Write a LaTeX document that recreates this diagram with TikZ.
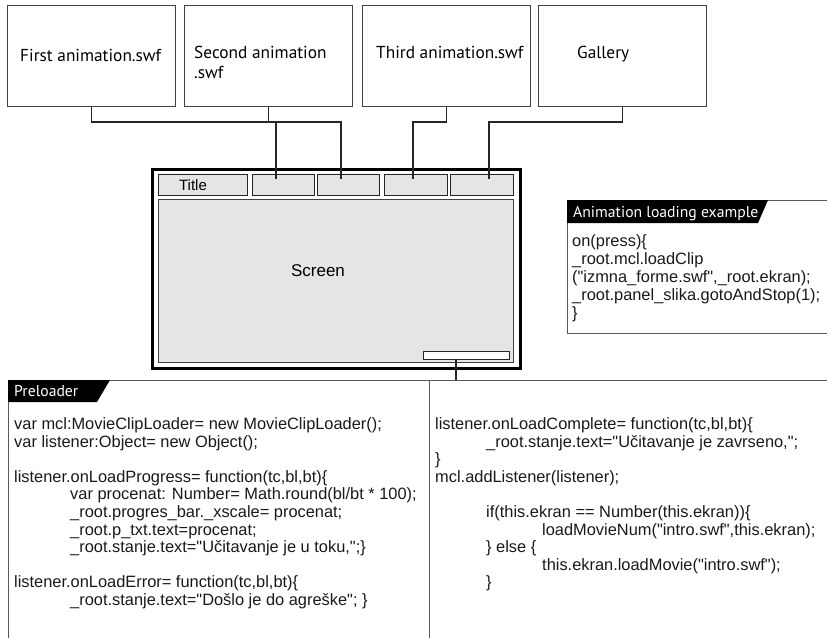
\documentclass[tikz,border=0pt]{standalone}
\usepackage{fontspec}
\usetikzlibrary{calc}
\setmainfont{Liberation Sans}
\newfontfamily\labelfont{PT Sans}
% plain family without TeX ligatures, so that " stays a straight quote
\newfontfamily\codefont{Liberation Sans}
\begin{document}
\begin{tikzpicture}[x=1pt,y=-1pt,
  filebox/.style={draw=black!75,line width=0.9pt,minimum width=168pt,minimum height=101pt,anchor=north west,inner sep=0pt},
  filetext/.style={font=\labelfont\fontsize{17.3}{20}\selectfont,anchor=base west,inner sep=0pt,align=left},
  link/.style={draw=black!85,line width=1.6pt},
  tab/.style={draw=black!85,line width=1.4pt,fill=black!10,anchor=north west,inner sep=0pt,minimum height=21pt},
  code/.style={font=\codefont\fontsize{16.4}{17.6}\selectfont,anchor=base west,inner sep=0pt,align=left,text=black!90},
  headtext/.style={font=\labelfont\fontsize{15.7}{18}\selectfont,text=white,anchor=base west,inner sep=0pt},
  panel/.style={draw=black!65,line width=0.9pt},
]
\useasboundingbox (0,0) rectangle (827,638);

% source files
\node[filebox] (f1) at (7,5) {};
\node[filebox] (f2) at (184,5) {};
\node[filebox] (f3) at (362,5) {};
\node[filebox] (f4) at (538,5) {};
% multi-line nodes sit on the baseline of their last line
\node[filetext] (t1) at (20,61) {First animation.swf};
\node[filetext] (t2) at (194,78) {Second animation\\.swf};
\node[filetext] (t3) at (376,58) {Third animation.swf};
\node[filetext] (t4) at (577,58) {Gallery};

% screen frame
\node[draw=black,line width=2.8pt,fill=white,minimum width=368pt,minimum height=199pt,anchor=north west,inner sep=0pt] (frame) at (151,168) {};
\node[tab,minimum width=89pt] (title) at (158,174) {};
\node[font=\fontsize{15}{18}\selectfont] (titletxt) at (193,185) {Title};
\node[tab,minimum width=62pt] (b1) at (252,174) {};
\node[tab,minimum width=62pt] (b2) at (317,174) {};
\node[tab,minimum width=63pt] (b3) at (384,174) {};
\node[tab,minimum width=63pt] (b4) at (450,174) {};
\node[draw=black!75,line width=1.3pt,fill=black!10,minimum width=355pt,minimum height=163pt,anchor=north west,inner sep=0pt] (screen) at (158,199) {};
\node[font=\fontsize{17}{20}\selectfont] (screentxt) at (318,271) {Screen};
\node[draw=black!85,line width=1.3pt,fill=white,minimum width=86pt,minimum height=8pt,anchor=north west,inner sep=0pt] (bar) at (423,351) {};

% connectors from files to buttons
\coordinate (e1) at (276,179);
\coordinate (e2) at (341,179);
\coordinate (e3) at (413,179);
\coordinate (e4) at (489,179);
\draw[link] (f1.south) |- (276,122) -- (e1);
\draw[link] (f2.south) |- (341,122) -- (e2);
\draw[link] (f3.south) |- (413,122) -- (e3);
\draw[link] (f4.south) |- (489,122) -- (e4);

% preloader panel
\coordinate (pl) at (8,380);
\coordinate (pr) at (827,380);
\coordinate (pb) at (8,638);
\coordinate (dv) at (429,380);
\coordinate (db) at (429,638);
\coordinate (bj) at (456,380);
\draw[panel] (pb) -- (pl) -- (pr);
\draw[panel] (dv) -- (db);
\draw[link,line width=1.4pt] (bar.south -| bj) -- (bj);
\fill[black] (8,380) -- (110,380) -- (97,402) -- (8,402) -- cycle;
\node[headtext] (prehead) at (14,396) {Preloader};

% first baseline 429.5, 17.6 per line
\node[code] (left) at (14,605.5) {var mcl:MovieClipLoader= new MovieClipLoader();\\
var listener:Object= new Object();\\
\mbox{}\\
listener.onLoadProgress= function(tc,bl,bt)\{\\
\hspace*{56pt}var procenat: Number= Math.round(bl/bt * 100);\\
\hspace*{56pt}\_root.progres\_bar.\_xscale= procenat;\\
\hspace*{56pt}\_root.p\_txt.text=procenat;\\
\hspace*{56pt}\_root.stanje.text="Učitavanje je u toku,";\}\\
\mbox{}\\
listener.onLoadError= function(tc,bl,bt)\{\\
\hspace*{56pt}\_root.stanje.text="Došlo je do agreške"; \}};

\node[code] (right) at (435,587.9) {listener.onLoadComplete= function(tc,bl,bt)\{\\
\hspace*{51pt}\_root.stanje.text="Učitavanje je zavrseno,";\\
\}\\
mcl.addListener(listener);\\
\mbox{}\\
\hspace*{51pt}if(this.ekran == Number(this.ekran))\{\\
\hspace*{107pt}loadMovieNum("intro.swf",this.ekran);\\
\hspace*{51pt}\} else \{\\
\hspace*{107pt}this.ekran.loadMovie("intro.swf");\\
\hspace*{51pt}\}};

% animation loading example
\draw[panel] (827,200) -- (567,200) -- (567,333) -- (827,333);
\fill[black] (567,200) -- (768,200) -- (758,223) -- (567,223) -- cycle;
\node[headtext] (animhead) at (573,217) {Animation loading example};
\node[code,font=\codefont\fontsize{16.4}{18}\selectfont] (anim) at (572,318) {on(press)\{\\
\_root.mcl.loadClip\\
("izmna\_forme.swf",\_root.ekran);\\
\_root.panel\_slika.gotoAndStop(1);\\
\}};
\end{tikzpicture}
\end{document}
